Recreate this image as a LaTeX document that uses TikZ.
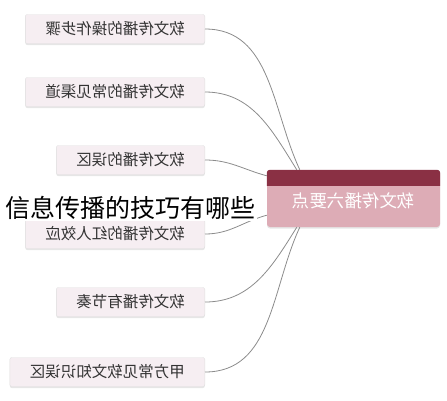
\documentclass[tikz,border=0pt]{standalone}
\usepackage{fontspec}
\usepackage{graphicx}
\setmainfont{Noto Sans CJK SC}
\usetikzlibrary{shadows}
\definecolor{topicfill}{RGB}{246,238,242}
\definecolor{mainfill}{RGB}{221,172,182}
\definecolor{mainhead}{RGB}{138,48,68}
\definecolor{linkgray}{RGB}{140,140,140}

\begin{document}
\begin{tikzpicture}[x=1pt,y=1pt]
        \tikzstyle{topic}=[draw=black!12, fill=topicfill, rounded corners=2pt, inner xsep=20pt, minimum height=29pt, anchor=east, text=black!80, font=\fontsize{15.5}{16}\selectfont, drop shadow={shadow xshift=0pt, shadow yshift=-1.5pt, opacity=0.2}]
        \tikzstyle{link}=[draw=linkgray, line width=0.8pt]
        \useasboundingbox (0,0) rectangle (447,-400);
        \node [topic] (t1) at (205,-29) {\reflectbox{软文传播的操作步骤}};
        \node [topic] (t2) at (205,-92) {\reflectbox{软文传播的常见渠道}};
        \node [topic] (t3) at (205,-160) {\reflectbox{软文传播的误区}};
        \node [topic] (t4) at (205,-234) {\reflectbox{软文传播的红人效应}};
        \node [topic] (t5) at (205,-302) {\reflectbox{软文传播有节奏}};
        \node [topic] (t6) at (205,-372) {\reflectbox{甲方常见软文知识误区}};
        \node [fill=mainfill, rounded corners=3pt, minimum width=173pt, minimum height=57pt, text=white, font=\fontsize{17.5}{18}\selectfont, drop shadow={shadow xshift=0pt, shadow yshift=-1.5pt, opacity=0.2}] (c) at (353.5,-198.5) {};
        \fill [mainhead] ([yshift=-16pt]c.north west) [rounded corners=3pt] -- (c.north west) -- (c.north east) [sharp corners] -- ([yshift=-16pt]c.north east) -- cycle;
        \node [text=white, font=\fontsize{17.5}{18}\selectfont] (ctext) at ([yshift=-2pt]c.center) {\reflectbox{软文传播六要点}};
        \draw [link] (t1.east) to[out=0, in=115] ([xshift=33pt]c.north west);
        \draw [link] (t2.east) to[out=0, in=122] ([xshift=30pt]c.north west);
        \draw [link] (t3.east) to[out=0, in=165] ([yshift=-6pt]c.north west);
        \draw [link] (t4.east) to[out=0, in=195] ([yshift=12pt]c.south west);
        \draw [link] (t5.east) to[out=0, in=-122] ([xshift=30pt]c.south west);
        \draw [link] (t6.east) to[out=0, in=-115] ([xshift=33pt]c.south west);
        \node [fill=white, inner sep=1pt, text=black, font=\fontsize{25}{26}\selectfont] (title) at (130.5,-208) {信息传播的技巧有哪些};
\end{tikzpicture}
\end{document}
